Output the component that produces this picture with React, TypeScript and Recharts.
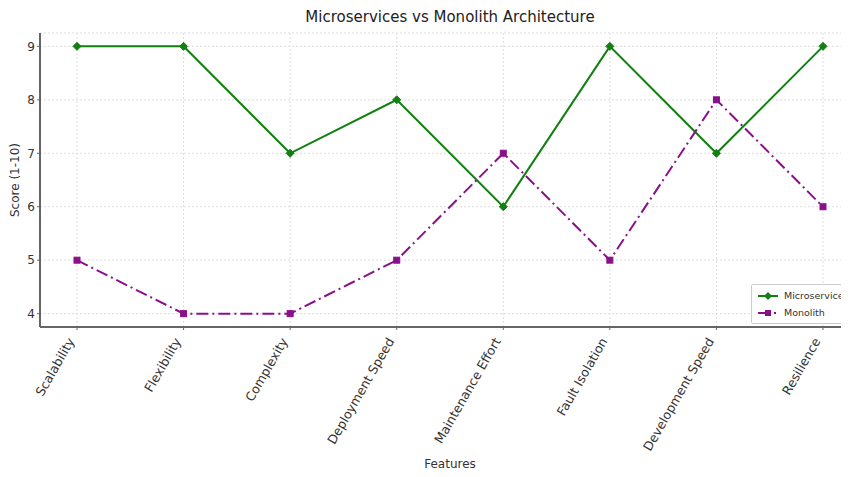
import { CartesianGrid, Line, LineChart, XAxis, YAxis } from 'recharts'

const features = [
  'Scalability',
  'Flexibility',
  'Complexity',
  'Deployment Speed',
  'Maintenance Effort',
  'Fault Isolation',
  'Development Speed',
  'Resilience',
]
const microservices = [9, 9, 7, 8, 6, 9, 7, 9]
const monolith = [5, 4, 4, 5, 7, 5, 8, 6]
const scoreTicks = [4, 5, 6, 7, 8, 9]

const GREEN = '#108010'
const PURPLE = '#8a108a'
const FONT = '"DejaVu Sans", sans-serif'

const data = features.map((feature, i) => ({
  feature,
  microservices: microservices[i],
  monolith: monolith[i],
}))

function Diamond({ cx, cy }: any) {
  const r = 4
  return <path d={`M${cx},${cy - r}L${cx + r},${cy}L${cx},${cy + r}L${cx - r},${cy}Z`} fill={GREEN} stroke={GREEN} />
}

function Square({ cx, cy }: any) {
  const r = 3
  return <rect x={cx - r} y={cy - r} width={r * 2} height={r * 2} fill={PURPLE} stroke={PURPLE} />
}

function FeatureTick({ x, y, payload }: any) {
  return (
    <g transform={`translate(${x - 2},${y + 9})`}>
      <text x={0} y={0} textAnchor="end" transform="rotate(-60)" fill="#333" fontSize={12.6} fontFamily={FONT}>
        {payload.value}
      </text>
    </g>
  )
}

function LegendBox() {
  return (
    <div
      style={{
        position: 'absolute',
        left: 751,
        top: 284,
        border: '1px solid #ccc',
        background: 'rgba(255,255,255,0.9)',
        padding: '2px 4px',
        fontFamily: FONT,
        fontSize: 9.5,
        color: '#333',
        lineHeight: '17px',
        borderRadius: 2,
      }}
    >
      <div style={{ display: 'flex', alignItems: 'center' }}>
        <svg width={24} height={10} style={{ marginRight: 4 }}>
          <line x1={2} y1={5} x2={22} y2={5} stroke={GREEN} strokeWidth={2} />
          <path d="M12,1L16,5L12,9L8,5Z" fill={GREEN} />
        </svg>
        Microservices
      </div>
      <div style={{ display: 'flex', alignItems: 'center' }}>
        <svg width={24} height={10} style={{ marginRight: 4 }}>
          <line x1={2} y1={5} x2={22} y2={5} stroke={PURPLE} strokeWidth={2} strokeDasharray="12 4 2 4" />
          <rect x={9} y={2} width={6} height={6} fill={PURPLE} />
        </svg>
        Monolith
      </div>
    </div>
  )
}

export default function App() {
  return (
    <div style={{ margin: -8, width: 849, height: 477, overflow: 'hidden', position: 'relative', background: '#fff' }}>
      <div style={{ position: 'absolute', left: 0, top: 0 }}>
        <LineChart width={870} height={477} data={data} margin={{ top: 33, right: 10, left: 12, bottom: 0 }}>
          <CartesianGrid stroke="#ddd" strokeDasharray="2 2" />
          <XAxis
            dataKey="feature"
            interval={0}
            padding={{ left: 37, right: 37 }}
            tick={<FeatureTick />}
            tickLine={{ stroke: '#666' }}
            tickSize={3}
            axisLine={{ stroke: '#666', strokeWidth: 2 }}
            height={150}
          />
          <YAxis
            width={28}
            domain={[3.75, 9.25]}
            ticks={scoreTicks}
            allowDataOverflow
            tickSize={3}
            tickLine={{ stroke: '#666' }}
            axisLine={{ stroke: '#666', strokeWidth: 2 }}
            tick={{ fill: '#333', fontSize: 12, fontFamily: FONT }}
          />
          <Line
            dataKey="microservices"
            name="Microservices"
            stroke={GREEN}
            strokeWidth={2}
            dot={<Diamond />}
            activeDot={false}
            isAnimationActive={false}
          />
          <Line
            dataKey="monolith"
            name="Monolith"
            stroke={PURPLE}
            strokeWidth={2}
            strokeDasharray="12 4 2 4"
            dot={<Square />}
            activeDot={false}
            isAnimationActive={false}
          />
        </LineChart>
      </div>
      <div
        style={{
          position: 'absolute',
          left: 0,
          width: 900,
          top: 8,
          textAlign: 'center',
          fontFamily: FONT,
          fontSize: 15,
          color: '#222',
        }}
      >
        Microservices vs Monolith Architecture
      </div>
      <div
        style={{
          position: 'absolute',
          left: 0,
          width: 900,
          top: 457,
          textAlign: 'center',
          fontFamily: FONT,
          fontSize: 12,
          color: '#333',
        }}
      >
        Features
      </div>
      <div
        style={{
          position: 'absolute',
          left: 15,
          top: 180,
          transform: 'translate(-50%, -50%) rotate(-90deg)',
          fontFamily: FONT,
          fontSize: 12,
          color: '#333',
          whiteSpace: 'nowrap',
        }}
      >
        Score (1-10)
      </div>
      <LegendBox />
    </div>
  )
}
